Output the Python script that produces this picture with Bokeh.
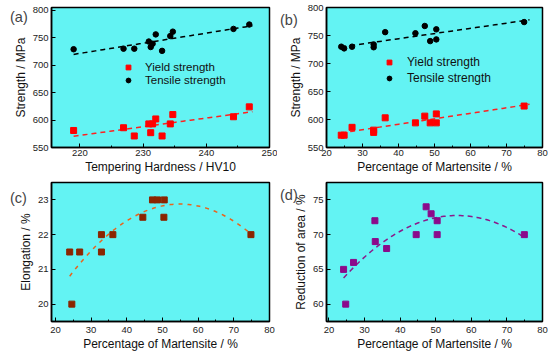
import numpy as np
from bokeh.plotting import figure
from bokeh.layouts import column, row
from bokeh.models import FixedTicker, Legend, LegendItem, Range1d, Div
from bokeh.embed import file_html
from bokeh.resources import INLINE

# ---------------- data ----------------
# (a) strength vs tempering hardness
a_hardness = [219.0, 226.9, 228.6, 230.9, 231.2, 231.5, 232.0, 233.0, 234.3, 234.7, 244.3, 246.8]
a_yield = [581, 586, 571, 593, 577, 593, 602, 571, 593, 610, 606, 624]
a_tensile = [729, 730, 730, 743, 733, 739, 756, 726, 753, 761, 766, 774]

# (b) strength vs percentage of martensite
b_mart = [24.1, 24.9, 27.1, 33.1, 33.1, 36.3, 44.7, 47.3, 48.8, 50.5, 50.5, 74.9]
b_yield = [572, 572, 586, 581, 577, 603, 594, 606, 594, 610, 594, 624]
b_tensile = [730, 727, 730, 734, 729, 756, 754, 767, 740, 761, 743, 774]

# (c) elongation vs martensite
c_mart = [24.0, 24.6, 26.8, 32.9, 32.9, 36.1, 44.5, 47.2, 48.6, 50.5, 50.4, 74.8]
c_elong = [21.5, 20.0, 21.5, 21.5, 22.0, 22.0, 22.5, 23.0, 23.0, 23.0, 22.5, 22.0]

# (d) reduction of area vs martensite
d_mart = [24.1, 24.7, 26.9, 32.9, 33.0, 36.2, 44.5, 47.3, 48.7, 50.4, 50.4, 74.9]
d_ra = [65, 60, 66, 72, 69, 68, 70, 74, 73, 72, 70, 70]

a_xticks = [220, 230, 240, 250]
m_xticks = [20, 30, 40, 50, 60, 70, 80]
s_yticks = [550, 600, 650, 700, 750, 800]
c_yticks = [20, 21, 22, 23]
d_yticks = [60, 65, 70, 75]
panel_tags = ["(a)", "(b)", "(c)", "(d)"]

FONT = "Liberation Sans"
BG = "#63F3F3"


def minor_of(ticks):
    step = ticks[1] - ticks[0]
    return [t + step / 2 for t in [ticks[0] - step] + ticks]


def make_fig(width, height, borders, xr, yr, xticks, yticks, xlabel, ylabel, xstand):
    p = figure(width=width, height=height, output_backend="svg", toolbar_location=None,
               x_range=Range1d(*xr), y_range=Range1d(*yr),
               min_border_left=borders[0], min_border_right=borders[1],
               min_border_top=borders[2], min_border_bottom=borders[3])
    p.background_fill_color = BG
    p.border_fill_color = "white"
    p.outline_line_color = "black"
    p.outline_line_width = 1.5
    p.grid.visible = False
    p.xaxis.ticker = FixedTicker(ticks=xticks, minor_ticks=minor_of(xticks))
    p.yaxis.ticker = FixedTicker(ticks=yticks)
    for ax in (p.xaxis[0], p.yaxis[0]):
        ax.axis_line_width = 1.5
        ax.major_tick_in = 4
        ax.major_tick_out = 0
        ax.minor_tick_in = 2
        ax.minor_tick_out = 0
        ax.major_label_text_font = FONT
        ax.major_label_text_font_size = "9.5px"
        ax.major_label_text_color = "#222222"
        ax.axis_label_text_font = FONT
        ax.axis_label_text_font_size = "12px"
        ax.axis_label_text_font_style = "normal"
        ax.axis_label_text_color = "#111111"
    p.yaxis.minor_tick_line_color = None
    p.xaxis.major_label_standoff = xstand
    p.xaxis.axis_label_standoff = 1
    p.yaxis.major_label_standoff = 3
    p.yaxis.axis_label_standoff = 2
    p.xaxis.axis_label = xlabel
    p.yaxis.axis_label = ylabel
    return p


def tag_div(text, left, top):
    return Div(text=text, styles={"position": "absolute", "left": f"{left}px", "top": f"{top}px",
                                  "font-family": FONT, "font-size": "14.5px", "color": "#444444",
                                  "line-height": "1", "z-index": "10"})


def linfit(x, y, x0, x1):
    k = np.polyfit(x, y, 1)
    xs = np.linspace(x0, x1, 50)
    return xs, np.polyval(k, xs)


def quadfit(x, y):
    k = np.polyfit(x, y, 2)
    xs = np.linspace(min(x), max(x), 100)
    return xs, np.polyval(k, xs)


# ---------------- (a) ----------------
pa = make_fig(277, 178, (51, 8, 5, 30), (215.5, 250), (550, 805), a_xticks, s_yticks,
              "Tempering Hardness / HV10", "Strength / MPa", 2)
xs, ys = linfit(a_hardness, a_yield, min(a_hardness), max(a_hardness) + 0.5)
pa.line(xs, ys, line_color="#FF2020", line_width=1.5, line_dash="5 4")
xs, ys = linfit(a_hardness, a_tensile, min(a_hardness), max(a_hardness) + 0.5)
pa.line(xs, ys, line_color="black", line_width=1.5, line_dash="5 4")
ya = pa.scatter(a_hardness, a_yield, marker="square", size=6, color="#FF0000")
ta = pa.scatter(a_hardness, a_tensile, marker="circle", size=5.5, color="black")
lega = Legend(items=[LegendItem(label="Yield strength", renderers=[ya]),
                     LegendItem(label="Tensile strength", renderers=[ta])],
              location=(71, 61), glyph_width=12, glyph_height=12, label_height=12,
              label_standoff=11, spacing=1, padding=0, margin=0,
              background_fill_alpha=0, border_line_color=None,
              label_text_font=FONT, label_text_font_size="11.5px", label_text_color="#111111")
pa.add_layout(lega)

# ---------------- (b) ----------------
pb = make_fig(273, 178, (49, 8, 7, 31), (20, 80), (550, 800), m_xticks, s_yticks,
              "Percentage of Martensite / %", "Strength / MPa", 2)
xs, ys = linfit(b_mart, b_yield, min(b_mart), max(b_mart) + 1.5)
pb.line(xs, ys, line_color="#FF2020", line_width=1.5, line_dash="5 4")
xs, ys = linfit(b_mart, b_tensile, min(b_mart), max(b_mart) + 1.5)
pb.line(xs, ys, line_color="black", line_width=1.5, line_dash="5 4")
yb = pb.scatter(b_mart, b_yield, marker="square", size=6, color="#FF0000")
tb = pb.scatter(b_mart, b_tensile, marker="circle", size=5.5, color="black")
legb = Legend(items=[LegendItem(label="Yield strength", renderers=[yb]),
                     LegendItem(label="Tensile strength", renderers=[tb])],
              location=(57, 62), glyph_width=12, glyph_height=12, label_height=12,
              label_standoff=12, spacing=2, padding=0, margin=0,
              background_fill_alpha=0, border_line_color=None,
              label_text_font=FONT, label_text_font_size="12px", label_text_color="#111111")
pb.add_layout(legb)

# ---------------- (c) ----------------
pc = make_fig(277, 178, (51, 8, 4, 35), (18.9, 80), (19.5, 23.5), m_xticks, c_yticks,
              "Percentage of Martensite / %", "Elongation / %", 5)
xs, ys = quadfit(c_mart, c_elong)
pc.line(xs, ys, line_color="#E8641E", line_width=1.5, line_dash="4 5")
pc.scatter(c_mart, c_elong, marker="square", size=6, color="#8B2500")

# ---------------- (d) ----------------
pd = make_fig(273, 178, (49, 8, 4, 35), (19.3, 80), (57.5, 77.5), m_xticks, d_yticks,
              "Percentage of Martensite / %", "Reduction of area / %", 5)
xs, ys = quadfit(d_mart, d_ra)
pd.line(xs, ys, line_color="#8B1A8B", line_width=1.5, line_dash="5 4")
pd.scatter(d_mart, d_ra, marker="square", size=6, color="#8B0A8B")

tags = [tag_div(panel_tags[0], 5, 5), tag_div(panel_tags[1], 275, 8),
        tag_div(panel_tags[2], 5, 186), tag_div(panel_tags[3], 275, 183)]
layout = column(row(pa, pb), row(pc, pd), *tags)
open("out.html", "w").write(file_html(layout, INLINE))
